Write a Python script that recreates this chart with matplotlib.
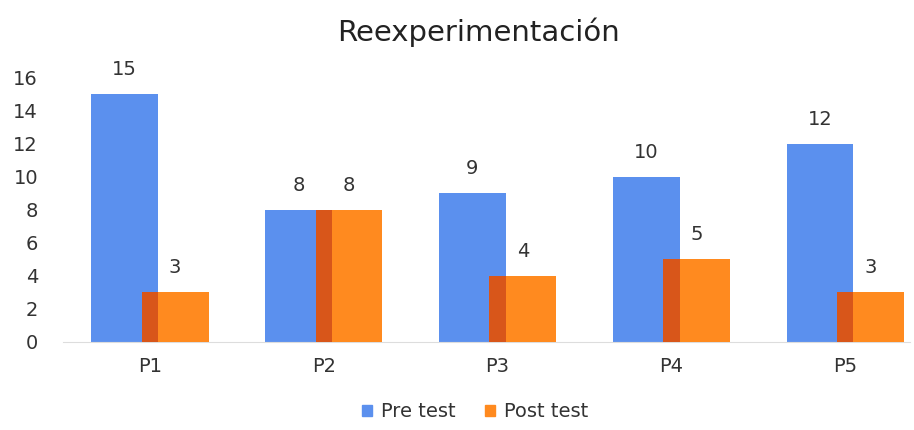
import numpy as np
from matplotlib import pyplot as plt
from matplotlib.patches import Patch

categories = ['P1', 'P2', 'P3', 'P4', 'P5']
pre_test = [15, 8, 9, 10, 12]
post_test = [3, 8, 4, 5, 3]

blue = '#5b90ee'
orange = '#ff8a1f'
dark_orange = '#d8561a'
text_color = '#333333'

fig = plt.figure(figsize=(9.14, 4.30), dpi=100)
ax = fig.add_axes([0.069, 0.205, 0.927, 0.614])

x = np.arange(len(categories))
width = 0.385
off = 0.145
ax.bar(x - off, pre_test, width, color=blue, zorder=2)
ax.bar(x + off, post_test, width, color=orange, zorder=3)
# darker strip where the two bars overlap
overlap = width - 2 * off
ax.bar(x, np.minimum(pre_test, post_test), overlap, color=dark_orange, zorder=4)

for i in range(len(categories)):
    ax.annotate(str(pre_test[i]), (x[i] - off, pre_test[i]), xytext=(0, 11),
                textcoords='offset points', ha='center', va='bottom',
                fontsize=14, color=text_color)
    ax.annotate(str(post_test[i]), (x[i] + off, post_test[i]), xytext=(0, 11),
                textcoords='offset points', ha='center', va='bottom',
                fontsize=14, color=text_color)

ax.set_xlim(-0.5, 4.375)
ax.set_ylim(0, 16)
ax.set_yticks(range(0, 17, 2))
ax.set_xticks(x)
ax.set_xticklabels(categories)
ax.tick_params(axis='both', length=0, labelsize=14, colors=text_color)
ax.tick_params(axis='x', pad=11)
ax.tick_params(axis='y', pad=18)
for s in ['top', 'right', 'left']:
    ax.spines[s].set_visible(False)
ax.spines['bottom'].set_color('#dddddd')

fig.suptitle('Reexperimentación', x=0.523, y=0.96, fontsize=21, color='#222222')

handles = [Patch(color=blue, label='Pre test'), Patch(color=orange, label='Post test')]
fig.legend(handles=handles, loc='lower center', bbox_to_anchor=(0.52, -0.02),
           ncol=2, frameon=False, fontsize=14, handlelength=0.5, handleheight=0.5,
           handletextpad=0.5, columnspacing=1.5, labelcolor=text_color)

plt.savefig('out.png', dpi=100)
